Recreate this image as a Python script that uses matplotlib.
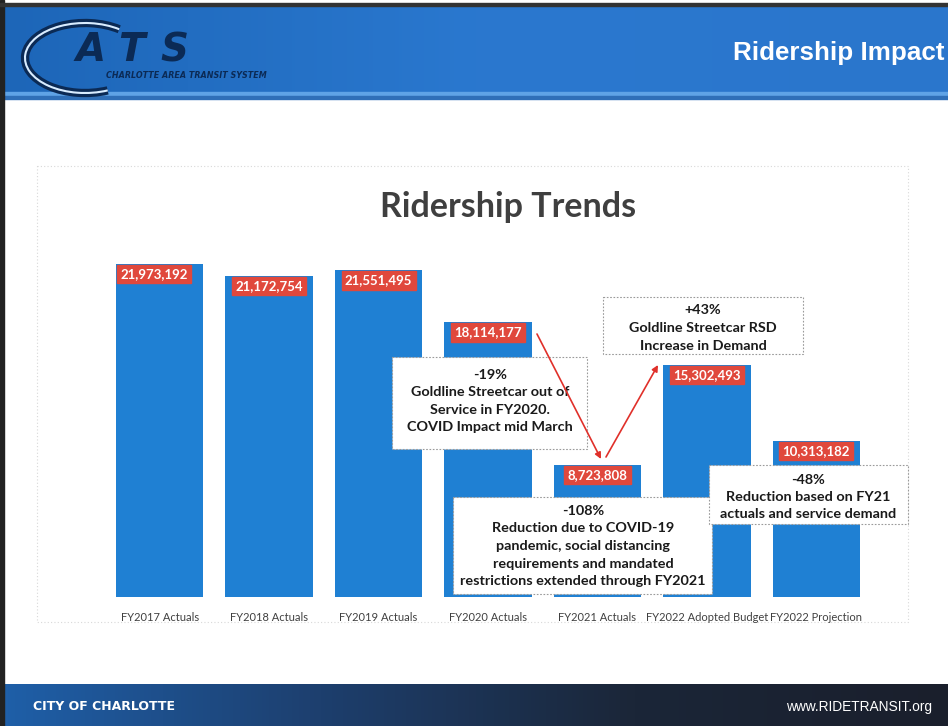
import matplotlib
matplotlib.use("Agg")
import matplotlib.pyplot as plt
import numpy as np
from matplotlib.patches import Rectangle, FancyArrowPatch, Arc
from matplotlib.colors import LinearSegmentedColormap

categories = ["FY2017 Actuals", "FY2018 Actuals", "FY2019 Actuals", "FY2020 Actuals",
              "FY2021 Actuals", "FY2022 Adopted Budget", "FY2022 Projection"]
ridership = [21973192, 21172754, 21551495, 18114177, 8723808, 15302493, 10313182]
value_labels = ["21,973,192", "21,172,754", "21,551,495", "18,114,177",
                "8,723,808", "15,302,493", "10,313,182"]

W, H = 948, 726
fig = plt.figure(figsize=(W / 100, H / 100), dpi=100)
fig.patch.set_facecolor("white")

def fx(px):
    return px / W

def fy(py):
    return 1 - py / H

# Background / decoration axes in pixel coordinates
bg = fig.add_axes([0, 0, 1, 1], zorder=0)
bg.set_xlim(0, W)
bg.set_ylim(H, 0)
bg.axis("off")

grad = np.linspace(0, 1, 256).reshape(1, -1)
hdr_cmap = LinearSegmentedColormap.from_list("hdr", ["#1d66b8", "#2a78cf", "#2b76cc"])
bg.imshow(grad, extent=(4, W, 92, 6), cmap=hdr_cmap, aspect="auto", zorder=1)
bg.add_patch(Rectangle((4, 92), W, 4, color="#5fa3e6", zorder=2))
bg.add_patch(Rectangle((4, 96), W, 3, color="#2f6fb8", zorder=2))
bg.add_patch(Rectangle((0, 0), 4, H, color="#222222", zorder=3))
bg.add_patch(Rectangle((0, 3), W, 3, color="#333333", zorder=3))

ftr_cmap = LinearSegmentedColormap.from_list("ftr", ["#1f5fa8", "#1d3f6e", "#1b2638", "#1a1f2c"])
bg.imshow(grad, extent=(4, W, H, 684), cmap=ftr_cmap, aspect="auto", zorder=1)

# logo approximation
bg.add_patch(Arc((85, 58), 120, 70, theta1=55, theta2=320, color="#0b2a55", lw=6, zorder=4))
bg.add_patch(Arc((85, 58), 120, 70, theta1=55, theta2=320, color="#d8ecff", lw=1.5, zorder=5))
for k, ch in enumerate("ATS"):
    bg.text(76 + k * 42, 50, ch, fontsize=28, fontweight="bold", style="italic",
            color="#0b2a55", family="DejaVu Sans", va="center", ha="left", zorder=6)
bg.text(106, 76, "CHARLOTTE AREA TRANSIT SYSTEM", fontsize=5.8, fontweight="bold",
        style="italic", color="#0b2a55", va="center", ha="left", zorder=6)

bg.text(945, 53, "Ridership Impact", fontsize=18.7, fontweight="bold", color="white",
        family="Liberation Sans", ha="right", va="center", zorder=6)
bg.text(33, 706, "CITY OF CHARLOTTE", fontsize=9, fontweight="bold", color="white",
        family="DejaVu Sans", ha="left", va="center", zorder=6)
bg.text(932, 707, "www.RIDETRANSIT.org", fontsize=9.9, color="white",
        family="Liberation Sans", ha="right", va="center", zorder=6)

# chart frame
bg.add_patch(Rectangle((37, 166), 871, 456, facecolor="white", edgecolor="#d8d8d8",
                       lw=0.8, ls=(0, (1, 2)), zorder=2))
bg.text(508, 207, "Ridership Trends", fontsize=24.5, fontweight="bold", color="#3f3f3f",
        family="Lato", ha="center", va="center", zorder=6)

# main chart axes
left_px, right_px = 105, 871
base_px, top_px = 597, 170
ax = fig.add_axes([fx(left_px), fy(base_px), (right_px - left_px) / W, (base_px - top_px) / H],
                  zorder=1)
ax.patch.set_alpha(0)
scale = 15.16e-6  # px per rider
ymax = (base_px - top_px) / scale
ax.set_ylim(0, ymax)
ax.set_xlim(-0.5, len(categories) - 0.5)
x = np.arange(len(categories))
ax.bar(x, ridership, width=0.8, color="#1f80d3", zorder=2)
for s in ax.spines.values():
    s.set_visible(False)
ax.set_yticks([])
ax.set_xticks(x)
ax.set_xticklabels(categories, fontsize=8, color="#404040", family="Lato")
ax.tick_params(axis="x", length=0, pad=11)

for i, (v, lab) in enumerate(zip(ridership, value_labels)):
    dx = -4 if i == 0 else 0
    ax.annotate(lab, xy=(i, v), xytext=(dx, -3), textcoords="offset points",
                ha="center", va="top", fontsize=9.5, fontweight="bold", color="white",
                family="Lato",
                bbox=dict(boxstyle="square,pad=0.25", fc="#e0483c", ec="#e0483c"), zorder=3)

# overlay for annotation boxes and arrows (pixel coords)
ov = fig.add_axes([0, 0, 1, 1], zorder=2)
ov.set_xlim(0, W)
ov.set_ylim(H, 0)
ov.axis("off")
ov.patch.set_alpha(0)

boxes = [
    ((392, 357, 195, 92), (490, 401), "-19%\nGoldline Streetcar out of\nService in FY2020.\nCOVID Impact mid March"),
    ((603, 297, 200, 57), (703, 328), "+43%\nGoldline Streetcar RSD\nIncrease in Demand"),
    ((453, 497, 259, 97), (583, 546), "-108%\nReduction due to COVID-19\npandemic, social distancing\nrequirements and mandated\nrestrictions extended through FY2021"),
    ((709, 465, 199, 59), (808, 497), "-48%\nReduction based on FY21\nactuals and service demand"),
]
for (bx, by, bw, bh), (tx, ty), txt in boxes:
    ov.add_patch(Rectangle((bx, by), bw, bh, facecolor="white", edgecolor="#9a9a9a",
                           lw=0.8, ls=(0, (1.5, 1.5)), zorder=3))
    ov.text(tx, ty, txt, ha="center", va="center", fontsize=10.4, fontweight="bold",
            color="#1a1a1a", family="Lato", linespacing=1.55, zorder=4)

arrow_kw = dict(arrowstyle="-|>", mutation_scale=9, color="#e0302a", lw=1.2, zorder=5,
                shrinkA=0, shrinkB=0)
ov.add_patch(FancyArrowPatch((537, 334), (601, 459), **arrow_kw))
ov.add_patch(FancyArrowPatch((606, 457), (658, 365), **arrow_kw))

fig.savefig("out.png", dpi=100)
